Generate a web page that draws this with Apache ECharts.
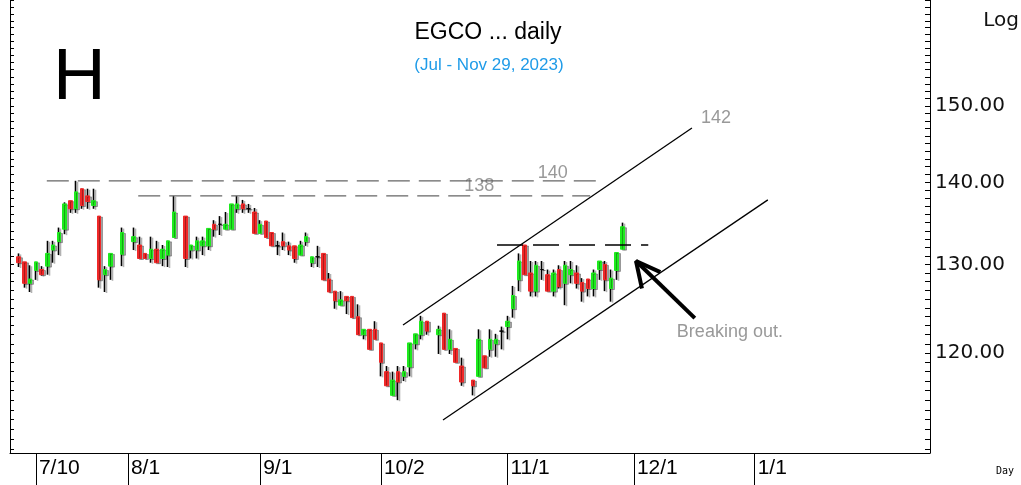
<!DOCTYPE html>
<html>
<head>
<meta charset="utf-8">
<script src="https://cdn.jsdelivr.net/npm/echarts@6/dist/echarts.min.js"></script>
<style>
html, body {margin: 0; padding: 0; background: #fff;}
#chart {width: 1021px; height: 485px;}
</style>
</head>
<body>
<div id="chart"></div>
<script>
// weekday axis starts on Jul 4 2023, first bar is Jul 5
var axisStart = [2023, 6, 4];
var slotCount = 160;
var firstBarIndex = 1;
var monthTicks = ['7/10', '8/1', '9/1', '10/2', '11/1', '12/1', '1/1'];
var priceLabels = [120, 130, 140, 150];
var yMin = 109.64, yMax = 165.07;

// daily bars from Jul 5, null = market holiday
var opens = [130.9, 130.3, 127.8, 129.3, 129.4, 129.8, 131.7, 132.7, 134.2, 137.7,
    136.7, 139.2, 138.3, 137.1, 135.8, 128.8, 129.8, null, 131.2, null,
    132.7, 132.3, 131.3, 130.7, 131.8, 130.7, 131.1, 133.2, null, 135.8,
    131.7, 131.7, 132.2, 132.2, 134.8, 134.8, 134.2, 134.2, 136.7, 137.3,
    136.7, 136.3, 133.7, 135.2, 133.8, 132.2, 132.7, 132.2, 132.2, 131.1,
    132.7, 130.2, 130.9, 131.3, 128.3, 126.9, 125.3, 126.3, 126.3, 124.0,
    122.0, 122.6, 122.6, 121.1, 118.0, 115.5, 118.0, 117.5, 118.5, 121.0,
    122.0, 123.5, null, 122.0, 124.4, 120.4, 120.5, 118.6, null, 117.1,
    117.5, 119.7, 120.4, 121.0, 122.4, 122.9, 124.9, 128.2, 132.3, 129.0,
    126.9, 129.4, 128.8, 126.9, 129.4, 127.8, 128.8, 129.0, 127.9, 128.3,
    127.2, 129.4, 130.0, 127.2, 129.3, 131.8];
var highs = [131.3, 130.3, 129.9, 130.3, 129.8, 132.8, 132.8, 134.4, 137.5, 137.7,
    140.2, 139.2, 139.2, 139.2, 135.8, 129.8, 131.3, null, 134.4, null,
    134.4, 133.3, 131.3, 133.3, 132.8, 132.3, 132.8, 138.3, null, 135.8,
    132.3, 133.3, 133.3, 134.3, 135.3, 135.8, 136.3, 137.3, 138.3, 137.8,
    137.3, 136.8, 135.3, 135.2, 133.8, 132.8, 133.8, 132.7, 132.2, 132.8,
    133.8, 130.9, 132.2, 131.3, 129.0, 126.9, 126.9, 126.3, 126.3, 125.4,
    122.6, 122.6, 123.5, 121.1, 118.6, 118.0, 118.6, 118.6, 121.1, 122.1,
    124.1, 123.5, null, 123.0, 124.4, 122.6, 120.5, 119.5, null, 117.1,
    122.6, 119.7, 122.6, 122.1, 122.9, 124.1, 127.5, 131.3, 132.3, 130.4,
    130.4, 130.4, 129.4, 129.4, 129.9, 130.4, 130.4, 129.9, 128.4, 128.3,
    129.4, 130.4, 130.4, 129.4, 131.4, 135.0];
var lows = [129.7, 127.3, 126.8, 128.2, 128.7, 128.8, 130.2, 131.1, 133.6, 136.2,
    136.2, 136.7, 136.7, 136.7, 127.3, 126.8, 128.2, null, 129.8, null,
    131.7, 130.7, 130.7, 130.2, 130.2, 129.8, 129.7, 133.2, null, 129.7,
    130.7, 130.7, 131.1, 131.7, 133.3, 133.5, 134.2, 134.2, 136.2, 136.2,
    136.2, 133.7, 133.7, 133.2, 132.2, 131.1, 131.7, 131.1, 130.2, 131.1,
    132.2, 129.7, 129.7, 128.2, 126.8, 124.9, 125.3, 124.3, 123.9, 122.0,
    121.5, 120.4, 121.5, 117.5, 116.5, 115.5, 115.0, 117.0, 117.5, 120.4,
    121.5, 122.0, null, 119.9, 120.4, 119.9, 119.0, 116.5, null, 115.5,
    117.5, 118.4, 119.6, 119.6, 120.4, 121.5, 123.9, 126.9, 128.8, 126.3,
    126.3, 128.2, 126.9, 126.3, 127.2, 125.3, 127.8, 127.2, 125.7, 126.3,
    126.3, 128.2, 126.9, 125.7, 128.2, 131.8];
var closes = [130.2, 127.8, 128.3, 130.3, 128.8, 131.3, 132.3, 133.8, 137.3, 136.7,
    138.8, 137.1, 137.6, 137.7, 128.2, 129.4, 131.3, null, 133.8, null,
    133.3, 130.7, 130.7, 131.8, 130.2, 131.8, 132.8, 136.3, null, 130.7,
    132.3, 132.8, 132.8, 134.3, 134.2, 134.8, 134.8, 137.3, 137.3, 136.7,
    136.7, 133.7, 134.8, 133.2, 132.2, 132.2, 132.2, 131.7, 130.7, 132.3,
    133.3, 130.9, 130.9, 128.2, 126.8, 125.8, 125.9, 125.8, 123.9, 122.0,
    122.6, 120.4, 121.5, 119.0, 116.5, 117.1, 116.9, 118.0, 121.1, 122.1,
    123.5, 122.4, null, 122.6, 120.4, 121.5, 119.0, 116.9, null, 116.5,
    121.5, 118.4, 121.5, 121.5, 122.4, 123.5, 126.4, 130.4, 128.8, 126.9,
    129.9, 129.4, 126.9, 129.0, 127.4, 129.9, 129.4, 127.8, 126.9, 127.2,
    129.0, 130.4, 128.2, 128.4, 131.4, 134.5];

// drawn lines: [x (bar index), price] pairs
var level140 = [[5.9, 140.2], [102.5, 140.2]];
var level138 = [[21.8, 138.3], [100.4, 138.3]];
var level132 = [[84.2, 132.3], [110.5, 132.3]];
var channelTop = [[67.85, 123.07], [118.1, 147.05]];
var channelBottom = [[74.8, 112.96], [131.3, 137.8]];
var arrowShaft = [[118.6, 123.85], [108.37, 130.4]];
var arrowHead = [[109.4, 127.2], [108.37, 130.4], [112.6, 129.1]];
var notes = [
    {value: [93.9, 141.2], name: '140'},
    {value: [81.1, 139.56], name: '138'},
    {value: [122.3, 148.4], name: '142'},
    {value: [124.7, 122.3], name: 'Breaking out.'}
];

var days = [];
var d = new Date(axisStart[0], axisStart[1], axisStart[2]);
while (days.length < slotCount) {
    if (d.getDay() != 0 && d.getDay() != 6) {
        days.push((d.getMonth() + 1) + '/' + d.getDate());
    }
    d.setDate(d.getDate() + 1);
}

var wickData = [];
var bodyData = [];
for (var i = 0; i < days.length; i++) {
    var k = i - firstBarIndex;
    if (k < 0 || k >= opens.length || opens[k] == null) {
        wickData.push('-');
        bodyData.push('-');
        continue;
    }
    wickData.push([opens[k], closes[k], lows[k], highs[k]]);
    bodyData.push([opens[k], closes[k], Math.min(opens[k], closes[k]), Math.max(opens[k], closes[k])]);
}

var minorTicks = [];
for (var t = 110; t <= 165; t++) minorTicks.push(t);

function isMonthTick(idx, val) {
    return monthTicks.indexOf(val) >= 0;
}

function drawnLine(data, color, width, type) {
    return {
        type: 'line',
        xAxisIndex: 1,
        data: data,
        symbol: 'none',
        silent: true,
        animation: false,
        lineStyle: {color: color, width: width, type: type},
        z: 5
    };
}

var chart = echarts.init(document.getElementById('chart'));
chart.setOption({
    animation: false,
    grid: {left: 10, right: 91, top: 0, bottom: 32},
    xAxis: [{
        type: 'category',
        data: days,
        boundaryGap: true,
        axisLine: {show: true, onZero: false, lineStyle: {color: '#000', width: 1}},
        axisTick: {
            show: true,
            alignWithLabel: true,
            interval: isMonthTick,
            length: 32,
            lineStyle: {color: '#000', width: 1}
        },
        axisLabel: {
            interval: isMonthTick,
            align: 'left',
            padding: [0, 0, 0, 3],
            margin: 5,
            fontFamily: 'Liberation Sans',
            fontSize: 21,
            color: '#000'
        },
        splitLine: {show: false}
    }, {
        type: 'value',
        min: -0.5,
        max: slotCount - 0.5,
        show: false
    }],
    yAxis: [{
        type: 'log',
        position: 'right',
        min: yMin,
        max: yMax,
        axisLine: {show: true, onZero: false, lineStyle: {color: '#000', width: 1}},
        axisTick: {show: true, inside: true, length: 5, customValues: minorTicks, lineStyle: {color: '#000'}},
        axisLabel: {
            customValues: priceLabels,
            formatter: function (v) { return Number(v).toFixed(2); },
            fontFamily: 'DejaVu Sans',
            fontSize: 20,
            color: '#111',
            margin: 5
        },
        splitLine: {show: false}
    }, {
        type: 'log',
        position: 'left',
        min: yMin,
        max: yMax,
        axisLine: {show: true, onZero: false, lineStyle: {color: '#000', width: 1}},
        axisTick: {show: true, inside: true, length: 4, customValues: minorTicks, lineStyle: {color: '#000'}},
        axisLabel: {show: false},
        splitLine: {show: false}
    }],
    series: [{
        type: 'candlestick',
        name: 'wick',
        data: wickData,
        barWidth: 1,
        silent: true,
        itemStyle: {
            color: '#000', color0: '#000',
            borderColor: '#000', borderColor0: '#000', borderColorDoji: '#000',
            borderWidth: 1.6,
            shadowColor: 'rgba(0,0,0,0.3)', shadowOffsetX: 2, shadowOffsetY: 1
        }
    }, {
        type: 'candlestick',
        name: 'body',
        data: bodyData,
        barWidth: 4,
        silent: true,
        itemStyle: {
            color: '#1EEB1E', color0: '#F02828',
            borderColor: '#1EEB1E', borderColor0: '#F02828', borderColorDoji: '#000',
            borderWidth: 1,
            shadowColor: 'rgba(0,0,0,0.3)', shadowOffsetX: 2, shadowOffsetY: 1
        }
    },
        drawnLine(level140, '#666', 1.3, [22, 9]),
        drawnLine(level138, '#666', 1.3, [22, 9]),
        drawnLine(level132, '#000', 1.6, [26, 10]),
        drawnLine(channelTop, '#000', 1.3, 'solid'),
        drawnLine(channelBottom, '#000', 1.3, 'solid'),
        drawnLine(arrowShaft, '#000', 4, 'solid'),
        drawnLine(arrowHead, '#000', 4, 'solid'),
        {
            type: 'scatter',
            xAxisIndex: 1,
            data: notes,
            symbolSize: 0,
            silent: true,
            label: {
                show: true,
                position: 'inside',
                formatter: '{b}',
                fontFamily: 'Liberation Sans',
                fontSize: 18,
                color: '#808080'
            }
        }
    ],
    graphic: [
        {type: 'text', left: 53, top: 42, style: {text: 'H', font: '73px "Liberation Sans"', fill: '#000'}},
        {type: 'text', x: 488, y: 33, style: {text: 'EGCO ... daily', font: '23px "Liberation Sans"', fill: '#000', align: 'center', verticalAlign: 'middle'}},
        {type: 'text', x: 489, y: 65, style: {text: '(Jul - Nov 29, 2023)', font: '17px "Liberation Sans"', fill: '#1E9BE8', align: 'center', verticalAlign: 'middle'}},
        {type: 'text', x: 1001, y: 21, style: {text: 'Log', font: '20px "DejaVu Sans"', fill: '#111', align: 'center', verticalAlign: 'middle'}},
        {type: 'text', x: 1005, y: 471, style: {text: 'Day', font: '10px "DejaVu Sans Mono"', fill: '#000', align: 'center', verticalAlign: 'middle'}}
    ]
});
</script>
</body>
</html>
